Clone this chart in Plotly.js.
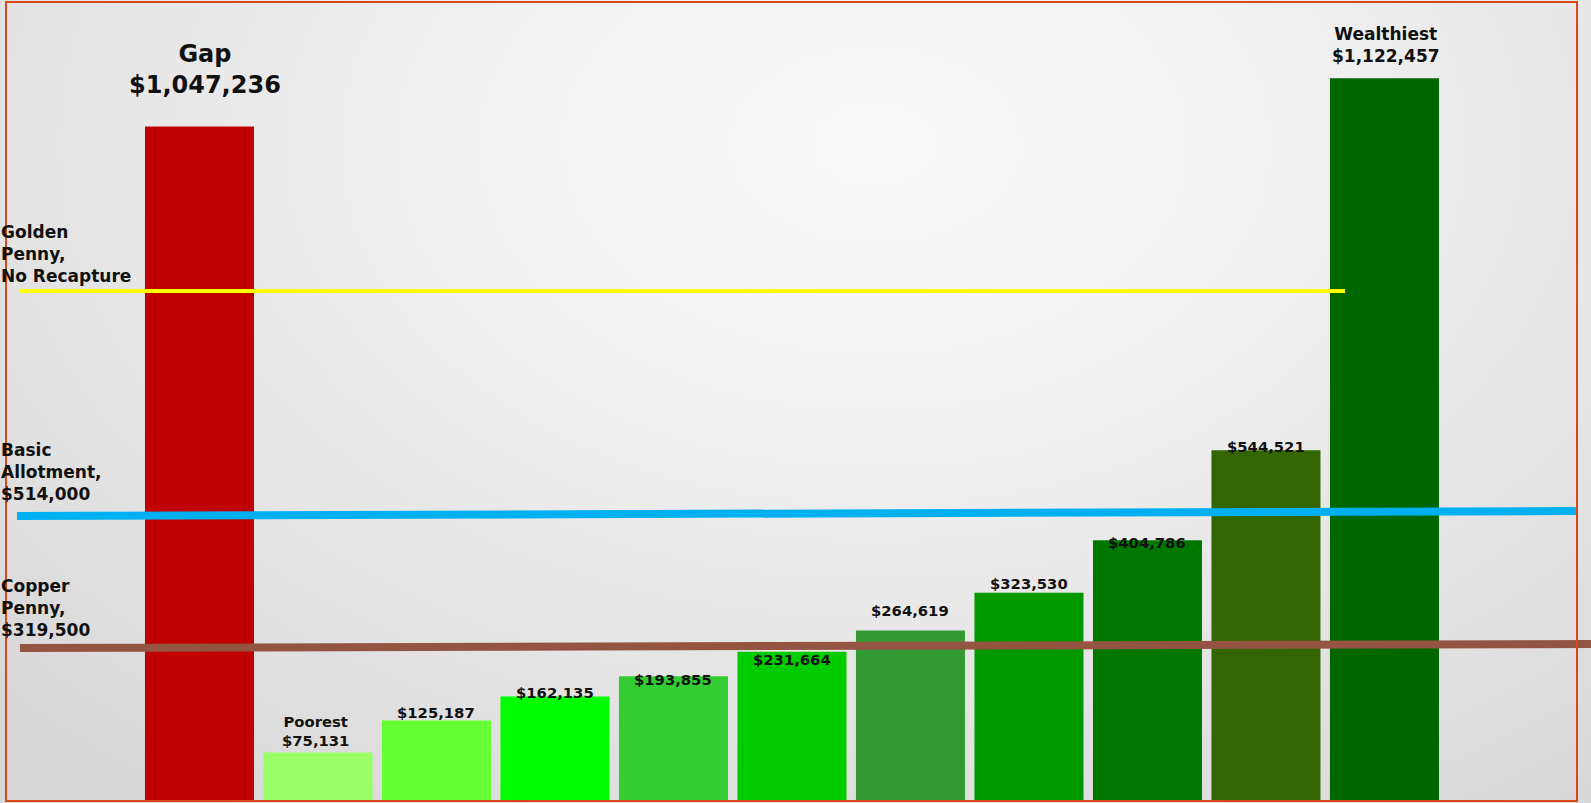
<!DOCTYPE html>
<html>
<head>
<meta charset="utf-8">
<script src="https://cdn.plot.ly/plotly-3.0.1.min.js"></script>
<style>
  html, body { margin: 0; padding: 0; }
  #chart {
    width: 1591px; height: 803px;
    background: radial-gradient(ellipse 75% 100% at 55% 18%, #f9f9f9 0%, #efefef 40%, #e2e2e2 75%, #d8d8d8 100%);
  }
</style>
</head>
<body>
<div id="chart"></div>
<script>
// ---- data ----
const categories = ["Gap", "Poorest", "2", "3", "4", "5", "6", "7", "8", "9", "Wealthiest"];
const values = [1047236, 75131, 125187, 162135, 193855, 231664, 264619, 323530, 404786, 544521, 1122457];
const labelPrefixes = ["Gap", "Poorest", "", "", "", "", "", "", "", "", "Wealthiest"];

const lineNames = ["Golden<br>Penny,<br>No Recapture", "Basic<br>Allotment,<br>$514,000", "Copper<br>Penny,<br>$319,500"];
// line levels as drawn in the picture (start, end)
const goldenLevel = [792000, 792000];
const basicLevel = [442500, 450300];
const copperLevel = [237600, 243800];

// ---- styles ----
const barColors = ["#C00000", "#99FF66", "#66FF33", "#00FF00", "#33CC33", "#00CC00",
                   "#339933", "#009900", "#007800", "#336600", "#006600"];
const labelShift = [57.5, 21.7, 8.3, 4.3, -3, -7.7, 20.3, 9.3, -1.7, 4, 33];
const labelSize = [24, 14.8, 14.8, 14.8, 14.8, 14.8, 14.8, 14.8, 14.8, 14.8, 17];
const labelXShift = [6, -2, 0, 0, 0, 0, 0, 0, 0, 0, 2];
const lineX = [[-1.515, 9.667], [-1.540, 11.616], [-1.515, 11.743]];
const lineColors = ["#FFFF00", "#00B0F0", "#935442"];
const lineWidths = [4, 8, 8];
const lineLabelShift = [37, 44, 40];

const xs = categories.map((c, i) => i);
const fmt = v => "$" + v.toLocaleString("en-US");
const barText = values.map((v, i) => (labelPrefixes[i] ? labelPrefixes[i] + "<br>" : "") + fmt(v));

const traces = [{
  type: "bar",
  x: xs,
  y: values,
  marker: { color: barColors },
  hoverinfo: "skip",
  width: 0.92
}];
const levels = [goldenLevel, basicLevel, copperLevel];
levels.forEach((lv, k) => {
  traces.push({
    type: "scatter", mode: "lines",
    x: lineX[k], y: lv,
    line: { color: lineColors[k], width: lineWidths[k] },
    hoverinfo: "skip", cliponaxis: false
  });
});

const font = { family: "DejaVu Sans, Verdana, sans-serif", color: "#111111", weight: "bold" };
const annotations = [];
values.forEach((v, i) => {
  annotations.push({
    x: xs[i], y: v, xref: "x", yref: "y",
    text: barText[i], showarrow: false,
    xanchor: "center", yanchor: "middle",
    yshift: labelShift[i], xshift: labelXShift[i],
    font: Object.assign({}, font, { size: labelSize[i] })
  });
});
levels.forEach((lv, k) => {
  annotations.push({
    x: 0, y: lv[0], xref: "paper", yref: "y",
    text: lineNames[k], showarrow: false, align: "left",
    xanchor: "left", yanchor: "middle", yshift: lineLabelShift[k], xshift: -1,
    font: Object.assign({}, font, { size: 17 })
  });
});

const layout = {
  width: 1591, height: 803,
  margin: { l: 0, r: 0, t: 0, b: 2, pad: 0 },
  paper_bgcolor: "rgba(0,0,0,0)",
  plot_bgcolor: "rgba(0,0,0,0)",
  showlegend: false,
  xaxis: { range: [-1.6835, 11.743], showgrid: false, zeroline: false, showticklabels: false, showline: false, fixedrange: true },
  yaxis: { range: [0, 1243800], showgrid: false, zeroline: false, showticklabels: false, showline: false, fixedrange: true },
  bargap: 0.08,
  annotations: annotations,
  shapes: [{
    type: "rect", xref: "paper", yref: "paper",
    x0: 6 / 1591, x1: 1577 / 1591, y0: 0, y1: 799 / 801,
    line: { color: "#D9481A", width: 2 }, fillcolor: "rgba(0,0,0,0)", layer: "above"
  }]
};

Plotly.newPlot("chart", traces, layout, { staticPlot: true, displayModeBar: false });
</script>
</body>
</html>
